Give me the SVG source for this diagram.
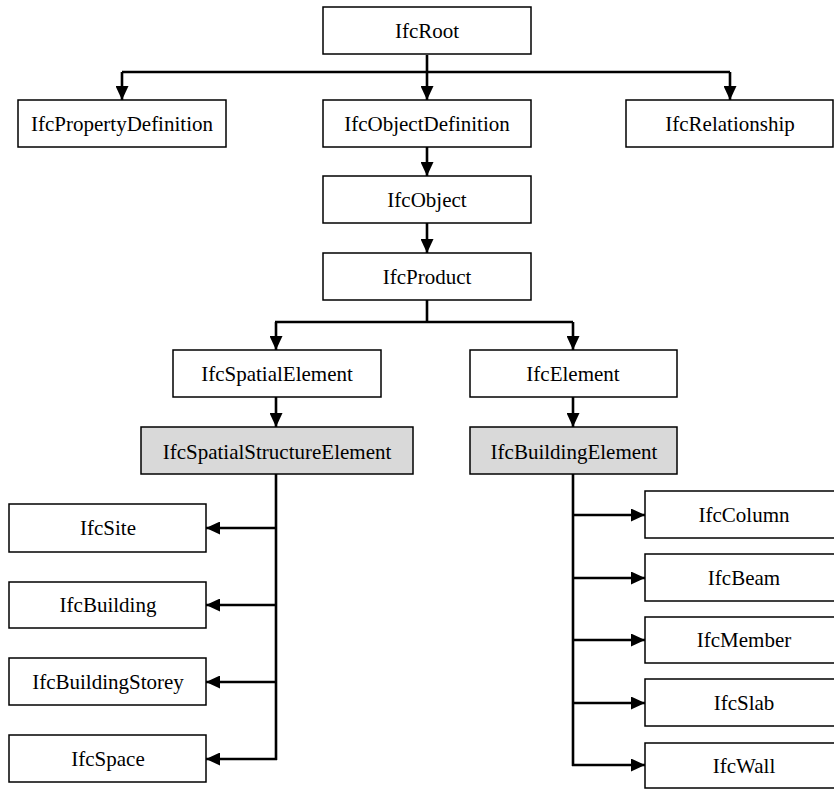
<svg xmlns="http://www.w3.org/2000/svg" width="834" height="789" viewBox="0 0 834 789">
<style>
.box{fill:#fff;stroke:#000;stroke-width:1.5}
.gray{fill:#d9d9d9;stroke:#000;stroke-width:1.5}
text{font-family:"Liberation Serif","Times New Roman",serif;font-size:21px;fill:#000;text-anchor:middle}
.c{fill:none;stroke:#000;stroke-width:2.6}
</style>
<defs>
<marker id="ah" markerUnits="userSpaceOnUse" markerWidth="15" markerHeight="13" refX="14" refY="6.5" orient="auto">
<path d="M0,0 L14,6.5 L0,13 z" fill="#000"/>
</marker>
</defs>
<g id="connectors">
<path class="c" d="M427,55 V72 M122,72 H730"/>
<path class="c" d="M122,72 V100" marker-end="url(#ah)"/>
<path class="c" d="M427,72 V100" marker-end="url(#ah)"/>
<path class="c" d="M730,72 V100" marker-end="url(#ah)"/>
<path class="c" d="M427,147 V176" marker-end="url(#ah)"/>
<path class="c" d="M427,223 V253" marker-end="url(#ah)"/>
<path class="c" d="M427,300 V322 M275,322 H573"/>
<path class="c" d="M276,322 V350" marker-end="url(#ah)"/>
<path class="c" d="M573,322 V350" marker-end="url(#ah)"/>
<path class="c" d="M276,397 V427" marker-end="url(#ah)"/>
<path class="c" d="M573,397 V427" marker-end="url(#ah)"/>
<path class="c" d="M276,474 V760"/>
<path class="c" d="M277,528 H206" marker-end="url(#ah)"/>
<path class="c" d="M277,605 H206" marker-end="url(#ah)"/>
<path class="c" d="M277,682 H206" marker-end="url(#ah)"/>
<path class="c" d="M277,759 H206" marker-end="url(#ah)"/>
<path class="c" d="M573,474 V766"/>
<path class="c" d="M572,515 H645" marker-end="url(#ah)"/>
<path class="c" d="M572,578 H645" marker-end="url(#ah)"/>
<path class="c" d="M572,640 H645" marker-end="url(#ah)"/>
<path class="c" d="M572,703 H645" marker-end="url(#ah)"/>
<path class="c" d="M572,765 H645" marker-end="url(#ah)"/>
</g>
<g id="IfcRoot"><rect class="box" x="323" y="7" width="208" height="47"/><text x="427" y="38">IfcRoot</text></g>
<g id="IfcPropertyDefinition"><rect class="box" x="18" y="100" width="208" height="47"/><text x="122" y="131">IfcPropertyDefinition</text></g>
<g id="IfcObjectDefinition"><rect class="box" x="323" y="100" width="208" height="47"/><text x="427" y="131">IfcObjectDefinition</text></g>
<g id="IfcRelationship"><rect class="box" x="626" y="100" width="207" height="47"/><text x="730" y="131">IfcRelationship</text></g>
<g id="IfcObject"><rect class="box" x="323" y="176" width="208" height="47"/><text x="427" y="207">IfcObject</text></g>
<g id="IfcProduct"><rect class="box" x="323" y="253" width="208" height="47"/><text x="427" y="284">IfcProduct</text></g>
<g id="IfcSpatialElement"><rect class="box" x="173" y="350" width="208" height="47"/><text x="277" y="381">IfcSpatialElement</text></g>
<g id="IfcElement"><rect class="box" x="470" y="350" width="207" height="47"/><text x="573" y="381">IfcElement</text></g>
<g id="IfcSpatialStructureElement"><rect class="gray" x="141" y="427" width="272" height="47"/><text x="277" y="459">IfcSpatialStructureElement</text></g>
<g id="IfcBuildingElement"><rect class="gray" x="470" y="427" width="207" height="47"/><text x="574" y="459">IfcBuildingElement</text></g>
<g id="IfcSite"><rect class="box" x="9" y="504" width="197" height="48"/><text x="108" y="535">IfcSite</text></g>
<g id="IfcBuilding"><rect class="box" x="9" y="582" width="197" height="46"/><text x="108" y="612">IfcBuilding</text></g>
<g id="IfcBuildingStorey"><rect class="box" x="9" y="658" width="197" height="47"/><text x="108" y="689">IfcBuildingStorey</text></g>
<g id="IfcSpace"><rect class="box" x="9" y="735" width="197" height="47"/><text x="108" y="766">IfcSpace</text></g>
<g id="IfcColumn"><rect class="box" x="645" y="491" width="200" height="47"/><text x="744" y="522">IfcColumn</text></g>
<g id="IfcBeam"><rect class="box" x="645" y="554" width="200" height="47"/><text x="744" y="585">IfcBeam</text></g>
<g id="IfcMember"><rect class="box" x="645" y="617" width="200" height="46"/><text x="744" y="647">IfcMember</text></g>
<g id="IfcSlab"><rect class="box" x="645" y="679" width="200" height="47"/><text x="744" y="710">IfcSlab</text></g>
<g id="IfcWall"><rect class="box" x="645" y="743" width="200" height="45"/><text x="744" y="773">IfcWall</text></g>
</svg>
